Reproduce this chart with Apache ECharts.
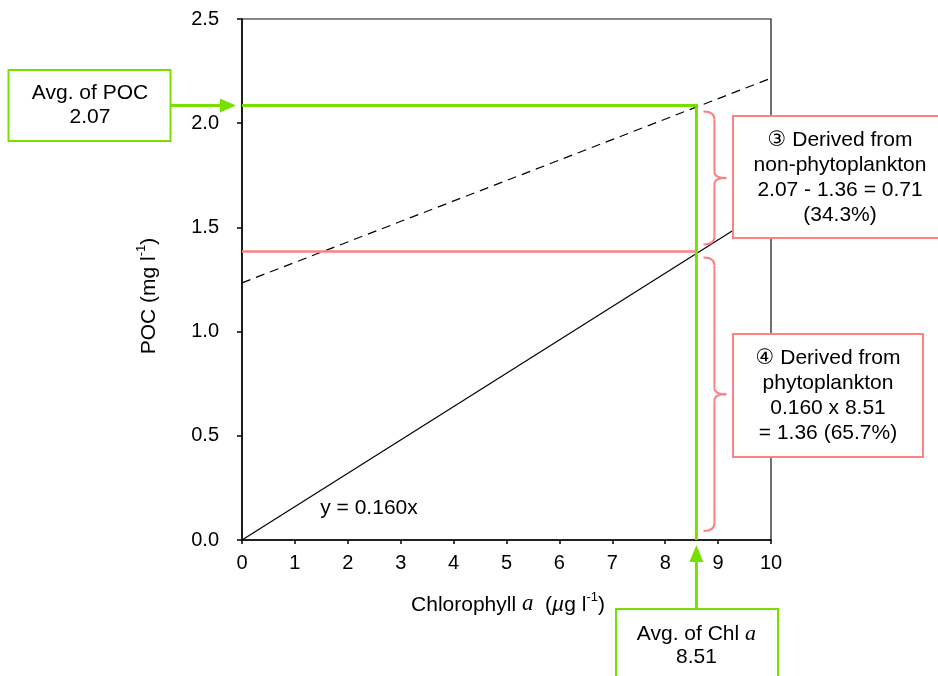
<!DOCTYPE html>
<html>
<head>
<meta charset="utf-8">
<script src="https://cdn.jsdelivr.net/npm/echarts@6/dist/echarts.min.js"></script>
<style>
html,body{margin:0;padding:0;background:#fff;}
#c{width:938px;height:676px;}
</style>
</head>
<body>
<div id="c"></div>
<script>
// ---- data ----
const xTickValues = [0,1,2,3,4,5,6,7,8,9,10];
const yTickValues = [0.0,0.5,1.0,1.5,2.0,2.5];
const regressionX = [0, 10];
const regressionY = [0, 1.6];          // y = 0.160x
const dashedX = [0, 10];
const dashedY = [1.234, 2.216];
const avgPOC = 2.085;                  // drawn level of avg POC
const avgChl = 8.59;                   // drawn position of avg Chl a
const phytoPOC = 1.384;                // drawn level of phytoplankton POC
const boxPOC = ['Avg. of POC', '2.07'];
const boxChl = ['Avg. of Chl ', 'a', '8.51'];
const box3 = ['③ Derived from', 'non-phytoplankton', '2.07 - 1.36 = 0.71', '(34.3%)'];
const box4 = ['④ Derived from', 'phytoplankton', '0.160 x 8.51', '= 1.36 (65.7%)'];
const eqLabel = 'y = 0.160x';

const GREEN = '#78e000';
const PINK = '#ff8282';
const FONT = '"Liberation Sans", Arial, "DejaVu Sans", sans-serif';
const SERIF = '"Liberation Serif", "DejaVu Serif", serif';

const chart = echarts.init(document.getElementById('c'), null, {renderer:'canvas'});

const zip = (xs, ys) => xs.map((x,i)=>[x, ys[i]]);

chart.setOption({
  animation: false,
  backgroundColor: '#fff',
  grid: {left: 242, top: 19, right: 167, bottom: 136, show: true, borderColor: '#111', borderWidth: 1.2, backgroundColor: 'transparent'},
  xAxis: {
    type: 'value', min: 0, max: 10, interval: 1,
    axisLine: {show: true, onZero: false, lineStyle: {color: '#000', width: 1.5}},
    axisTick: {show: true, inside: false, length: 4, lineStyle: {color: '#000', width: 1.5}},
    axisLabel: {margin: 13, color: '#000', fontSize: 20, fontFamily: FONT},
    splitLine: {show: false}
  },
  yAxis: {
    type: 'value', min: 0, max: 2.5, interval: 0.5,
    axisLine: {show: true, onZero: false, lineStyle: {color: '#000', width: 1.5}},
    axisTick: {show: true, inside: false, length: 5, lineStyle: {color: '#000', width: 1.5}},
    axisLabel: {margin: 23, color: '#000', fontSize: 20, fontFamily: FONT, formatter: v => v.toFixed(1)},
    splitLine: {show: false}
  },
  series: [
    {type: 'line', data: zip(regressionX, regressionY), symbol: 'none', lineStyle: {color: '#000', width: 1.2}, z: 2},
    {type: 'line', data: zip(dashedX, dashedY), symbol: 'none', lineStyle: {color: '#000', width: 1.2, type: [9, 6]}, z: 2},
    {type: 'line', data: [[0, phytoPOC], [avgChl, phytoPOC]], symbol: 'none', lineStyle: {color: PINK, width: 2.5}, z: 3},
    {type: 'line', data: [[0, avgPOC], [avgChl, avgPOC], [avgChl, 0]], symbol: 'none', lineStyle: {color: GREEN, width: 3, join: 'miter'}, z: 4}
  ]
});

const P = (x, y) => chart.convertToPixel({gridIndex: 0}, [x, y]);
const [x0, y0] = P(0, 0);
const [xChl, yPOC] = P(avgChl, avgPOC);
const yPhyto = P(0, phytoPOC)[1];
const xEnd = P(10, 0)[0];

const G = [];
const Z = 100;
function txt(x, y, lines, size, extra) {
  return Object.assign({type: 'text', z: Z, x: x, y: y, style: {text: lines.join('\n'), fill: '#000', font: size + 'px ' + FONT, align: 'center', verticalAlign: 'middle', lineHeight: 24}}, extra || {});
}
function rect(x, y, w, h, color) {
  return {type: 'rect', z: Z, shape: {x: x, y: y, width: w, height: h}, style: {fill: '#fff', stroke: color, lineWidth: 2}};
}
function line(x1, y1, x2, y2, color, w) {
  return {type: 'line', z: Z, shape: {x1, y1, x2, y2}, style: {stroke: color, lineWidth: w}};
}
function curve(x1, y1, cx, cy, x2, y2, color) {
  return {type: 'bezierCurve', z: Z, shape: {x1, y1, cpx1: cx, cpy1: cy, x2, y2}, style: {stroke: color, lineWidth: 2, fill: null}};
}
function brace(top, bot, xl, xv, xt, color) {
  const mid = (top + bot) / 2;
  return [
    curve(xl, top, xv, top, xv, top + 8, color),
    line(xv, top + 8, xv, mid - 6, color, 2),
    curve(xv, mid - 6, xv, mid, xt, mid, color),
    curve(xt, mid, xv, mid, xv, mid + 6, color),
    line(xv, mid + 6, xv, bot - 8, color, 2),
    curve(xv, bot - 8, xv, bot, xl, bot, color)
  ];
}

// Avg POC box + arrow
G.push(rect(8.5, 70, 162, 71, GREEN));
G.push(txt(90, 105, boxPOC, 21));
G.push(line(171, yPOC, x0 - 20, yPOC, GREEN, 3));
G.push({type: 'polygon', z: Z, shape: {points: [[x0 - 22, yPOC - 7], [x0 - 6, yPOC], [x0 - 22, yPOC + 7]]}, style: {fill: GREEN}});

// Avg Chl box + arrow
G.push(line(xChl, 609, xChl, y0 + 20, GREEN, 3));
G.push({type: 'polygon', z: Z, shape: {points: [[xChl - 7, y0 + 22], [xChl, y0 + 5], [xChl + 7, y0 + 22]]}, style: {fill: GREEN}});
G.push(rect(616, 609, 162, 90, GREEN));
G.push({type: 'text', z: Z, x: xChl, y: 646, style: {
  text: '{n|' + boxChl[0] + '}{i|' + boxChl[1] + '}\n{n|' + boxChl[2] + '}',
  align: 'center', verticalAlign: 'middle',
  rich: {n: {font: '21px ' + FONT, fill: '#000', lineHeight: 23}, i: {font: 'italic 22px ' + SERIF, fill: '#000', lineHeight: 23}}
}});

// Braces
G.push(...brace(yPOC + 6, yPhyto - 7, xChl + 7, xChl + 18, xChl + 30, PINK));
G.push(...brace(yPhyto + 6, y0 - 9, xChl + 7, xChl + 18, xChl + 30, PINK));

// Pink boxes
G.push(rect(733, 116, 215, 122, PINK));
G.push(txt(840, 177.5, box3, 21, {style: {text: box3.join('\n'), fill: '#000', font: '21px ' + FONT, align: 'center', verticalAlign: 'middle', lineHeight: 25}}));
G.push(rect(733, 334, 190, 123, PINK));
G.push(txt(828, 396, box4, 21, {style: {text: box4.join('\n'), fill: '#000', font: '21px ' + FONT, align: 'center', verticalAlign: 'middle', lineHeight: 25}}));

// Equation label
G.push({type: 'text', z: Z, x: 369, y: 508, style: {text: eqLabel, fill: '#000', font: '21px ' + FONT, align: 'center', verticalAlign: 'middle'}});

// Axis names
G.push({type: 'text', z: Z, x: 508, y: 603, style: {
  text: '{n|Chlorophyll }{i|a}{n|  (}{m|µ}{n|g l}{s|-1}{n|)}',
  align: 'center', verticalAlign: 'middle',
  rich: {
    n: {font: '21px ' + FONT, fill: '#000', lineHeight: 25, verticalAlign: 'bottom'},
    i: {font: 'italic 23px ' + SERIF, fill: '#000', lineHeight: 25, verticalAlign: 'bottom'},
    m: {font: 'italic 21px ' + FONT, fill: '#000', lineHeight: 25, verticalAlign: 'bottom'},
    s: {font: '13px ' + FONT, fill: '#000', lineHeight: 25, verticalAlign: 'top'}
  }
}});
G.push({type: 'text', z: Z, x: 147, y: 296, rotation: Math.PI / 2, style: {
  text: '{n|POC (mg l}{s|-1}{n|)}',
  align: 'center', verticalAlign: 'middle',
  rich: {
    n: {font: '21px ' + FONT, fill: '#000', lineHeight: 25, verticalAlign: 'bottom'},
    s: {font: '13px ' + FONT, fill: '#000', lineHeight: 25, verticalAlign: 'top'}
  }
}});

chart.setOption({graphic: G});
</script>
</body>
</html>
